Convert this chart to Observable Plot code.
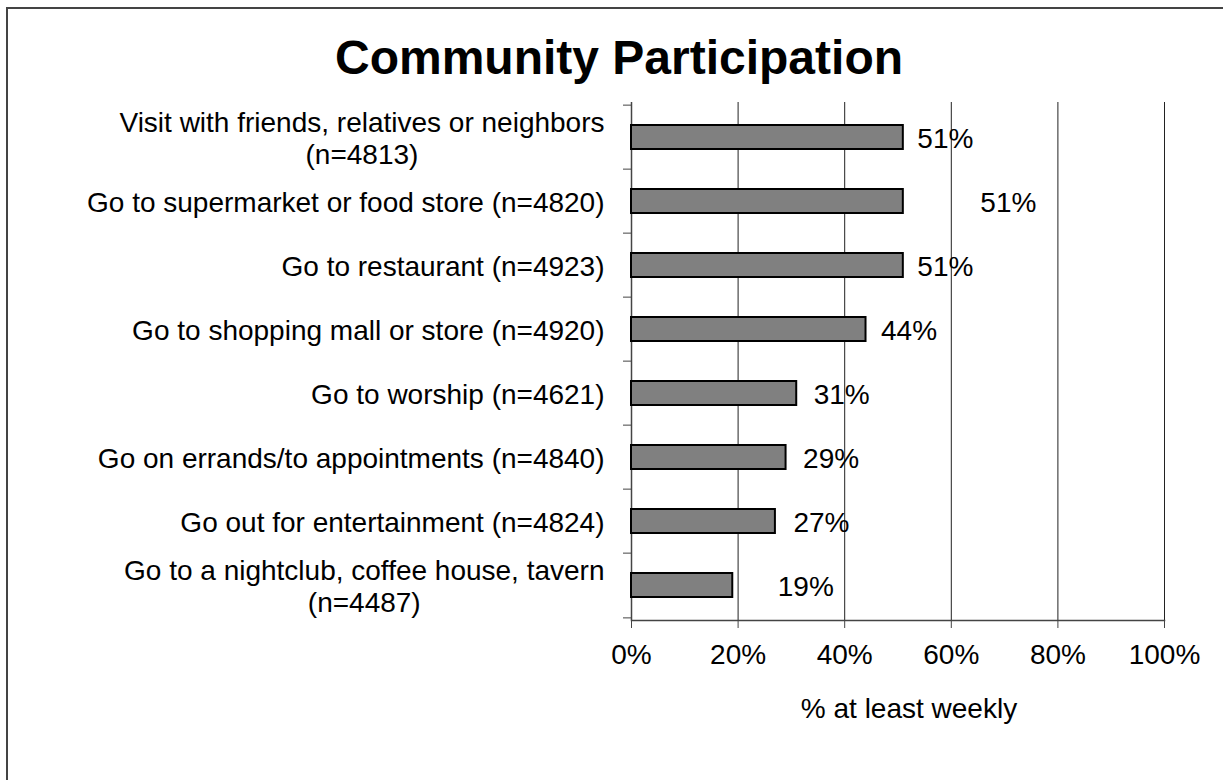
<!DOCTYPE html>
<html>
<head>
<meta charset="utf-8">
<script src="https://cdn.jsdelivr.net/npm/d3@7"></script>
<script src="https://cdn.jsdelivr.net/npm/@observablehq/plot@0.6"></script>
<style>
  html, body { margin: 0; padding: 0; background: #fff; }
  body { width: 1223px; height: 780px; overflow: hidden; position: relative; font-family: "Liberation Sans", Arial, sans-serif; }
  #border { position: absolute; left: 6px; top: 7px; width: 1300px; height: 900px; border-left: 2px solid #444; border-top: 2px solid #444; box-sizing: border-box; pointer-events: none; }
  #title { height: 95px; box-sizing: border-box; padding-top: 34px; padding-left: 15px; line-height: 48px; font-size: 48px; font-weight: bold; text-align: center; color: #000; }
  #chart svg { display: block; }
</style>
</head>
<body>
<div id="border"></div>
<div id="title">Community Participation</div>
<div id="chart"></div>
<script>
// ---- data ----
const categories = [
  "Visit with friends, relatives or neighbors\n(n=4813)",
  "Go to supermarket or food store (n=4820)",
  "Go to restaurant (n=4923)",
  "Go to shopping mall or store (n=4920)",
  "Go to worship (n=4621)",
  "Go on errands/to appointments (n=4840)",
  "Go out for entertainment (n=4824)",
  "Go to a nightclub, coffee house, tavern\n(n=4487)"
];
const values = [51, 51, 51, 44, 31, 29, 27, 19];
const xTicks = [0, 20, 40, 60, 80, 100];
const xLabel = "% at least weekly";

// ---- layout (not data) ----
const valueLabelGap = [14, 77, 14, 15, 17, 17, 18, 45];
const FONT = "28px 'Liberation Sans'";
const W = 1223, H = 685;
const mTop = 7, mBottom = 160, mLeft = 631, mRight = 59;
const step = (H - mTop - mBottom) / categories.length;

const rows = categories.map((c, i) => ({cat: c, value: values[i], i}));

const ctx = document.createElement("canvas").getContext("2d");
ctx.font = FONT;
const blockWidth = s => Math.max(...s.split("\n").map(l => ctx.measureText(l).width));

const catLabelMarks = rows.map(r =>
  Plot.text([r], {
    y: "cat", text: "cat", frameAnchor: "left",
    textAnchor: "middle", lineAnchor: "middle", lineHeight: 1.15,
    dx: -(27 + blockWidth(r.cat) / 2), fill: "#000"
  })
);
const valueLabelMarks = rows.map(r =>
  Plot.text([r], {
    x: "value", y: "cat", text: d => d.value + "%",
    textAnchor: "start", dx: valueLabelGap[r.i], dy: 2, fill: "#000"
  })
);

const chart = Plot.plot({
  width: W, height: H,
  marginTop: mTop, marginBottom: mBottom, marginLeft: mLeft, marginRight: mRight,
  style: {fontFamily: "'Liberation Sans', Arial, sans-serif", fontSize: "28px", color: "#000", background: "#fff", overflow: "visible"},
  x: {domain: [0, 100]},
  y: {domain: categories, padding: 0},
  marks: [
    Plot.gridX(xTicks.slice(1), {stroke: "#222", strokeOpacity: 1, strokeWidth: 1}),
    Plot.ruleX([0], {stroke: "#444", strokeWidth: 1.5}),
    Plot.frame({anchor: "bottom", stroke: "#444", strokeWidth: 1.5}),
    Plot.axisX({ticks: xTicks, tickFormat: d => d + "%", tickSize: 8, tickPadding: 16, label: null, stroke: "#444"}),
    Plot.axisY({ticks: categories, tickFormat: () => "", tickSize: 8, label: null, dy: -step / 2, stroke: "#444"}),
    Plot.axisY({ticks: categories.slice(-1), tickFormat: () => "", tickSize: 8, label: null, dy: step / 2, stroke: "#444"}),
    Plot.barX(rows, {x: "value", y: "cat", fill: "#808080", stroke: "#000", strokeWidth: 2, insetTop: 20, insetBottom: 20}),
    ...catLabelMarks,
    ...valueLabelMarks,
    Plot.text([xLabel], {frameAnchor: "bottom", lineAnchor: "middle", dy: 89, dx: 11, fill: "#000"})
  ]
});
document.getElementById("chart").appendChild(chart);
</script>
</body>
</html>
